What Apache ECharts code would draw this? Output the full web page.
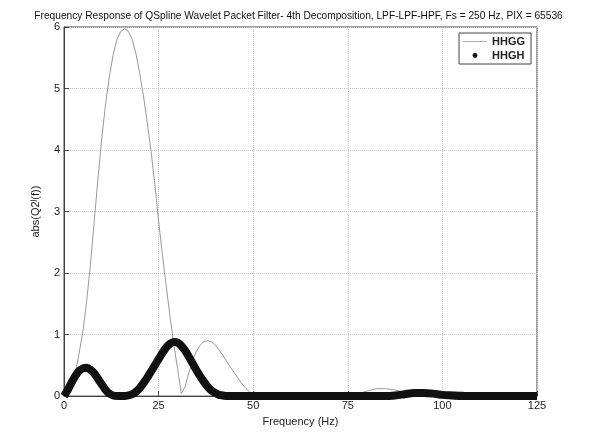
<!DOCTYPE html>
<html>
<head>
<meta charset="utf-8">
<script src="https://cdn.jsdelivr.net/npm/echarts@6/dist/echarts.min.js"></script>
<style>
  html, body { margin: 0; padding: 0; background: #fff; }
  #chart { width: 597px; height: 432px; }
</style>
</head>
<body>
<div id="chart"></div>
<script>
// frequency samples (Hz)
const freq = [
  0, 1, 2, 3, 4, 5, 6, 7, 8, 9, 10, 11, 12, 13, 14, 15, 16, 17, 18, 19, 20,
  21, 22, 23, 24, 25, 26, 27, 28, 29, 30, 31, 32, 33, 34, 35, 36, 37, 38, 39, 40,
  41, 42, 43, 44, 45, 46, 47, 48, 49, 50,
  52.5, 55, 57.5, 60, 62.5, 65, 67.5, 70, 72.5, 75, 77.5, 80, 82.5, 85, 87.5, 90,
  92.5, 95, 97.5, 100, 102.5, 105, 107.5, 110, 112.5, 115, 117.5, 120, 122.5, 125
];
// HHGG (thin gray)
const hhgg = [
  0, 0.03, 0.15, 0.38, 0.7, 1.05, 1.55, 2.15, 2.85, 3.55, 4.2, 4.75, 5.2, 5.55, 5.8, 5.93, 5.97, 5.93, 5.8, 5.57, 5.25,
  4.88, 4.45, 3.98, 3.45, 2.85, 2.3, 1.8, 1.3, 0.85, 0.45, 0.04, 0.15, 0.38, 0.58, 0.73, 0.83, 0.89, 0.9, 0.88, 0.83,
  0.75, 0.66, 0.56, 0.47, 0.38, 0.29, 0.2, 0.13, 0.07, 0.03,
  0.01, 0, 0, 0, 0, 0, 0, 0, 0, 0, 0.03, 0.08, 0.12, 0.12, 0.1, 0.06,
  0.03, 0.01, 0.02, 0.05, 0.07, 0.07, 0.04, 0.01, 0, 0, 0, 0, 0, 0
];
// HHGH (thick black)
const hhgh = [
  0, 0.1, 0.22, 0.33, 0.41, 0.45, 0.46, 0.43, 0.37, 0.28, 0.19, 0.1, 0.04, 0.01, 0, 0, 0, 0.01, 0.03, 0.07, 0.13,
  0.21, 0.3, 0.4, 0.5, 0.6, 0.7, 0.79, 0.85, 0.88, 0.87, 0.82, 0.74, 0.64, 0.53, 0.42, 0.32, 0.23, 0.15, 0.09, 0.05,
  0.02, 0.01, 0, 0, 0, 0, 0, 0, 0, 0,
  0, 0, 0, 0, 0, 0, 0, 0, 0, 0, 0, 0, 0, 0, 0.01, 0.03,
  0.05, 0.05, 0.04, 0.02, 0.01, 0, 0, 0, 0, 0, 0, 0, 0, 0
];
const xTicks = [0, 25, 50, 75, 100, 125];
const yTicks = [0, 1, 2, 3, 4, 5, 6];

const pairs = (ys) => freq.map((f, i) => [f, ys[i]]);

const chart = echarts.init(document.getElementById('chart'));
const fontFam = 'Liberation Sans, Arial, sans-serif';
const axisFont = { color: '#222', fontSize: 11, fontFamily: fontFam };

chart.setOption({
  animation: false,
  backgroundColor: '#fff',
  title: {
    text: 'Frequency Response of QSpline Wavelet Packet Filter- 4th Decomposition, LPF-LPF-HPF, Fs = 250 Hz, PIX = 65536',
    left: 'center',
    top: 6,
    textStyle: { color: '#111', fontSize: 10.2, fontWeight: 'normal', fontFamily: fontFam }
  },
  grid: {
    left: 64, right: 60, top: 27, bottom: 32,
    show: true, borderColor: '#444', borderWidth: 1
  },
  legend: {
    orient: 'vertical',
    right: 66,
    top: 33,
    padding: [3, 6, 3, 4],
    itemGap: 3,
    itemWidth: 24,
    itemHeight: 6,
    borderColor: '#444',
    borderWidth: 1,
    backgroundColor: '#fff',
    textStyle: { color: '#222', fontSize: 11, fontFamily: fontFam, fontWeight: 'bold' },
    data: [
      { name: 'HHGG', icon: 'path://M0,0H30V1H0Z', itemStyle: { color: '#999' } },
      { name: 'HHGH', lineStyle: { opacity: 0, width: 0 }, itemStyle: { color: '#111' } }
    ]
  },
  xAxis: {
    type: 'value',
    min: 0, max: 125, interval: 25,
    name: 'Frequency (Hz)',
    nameLocation: 'middle',
    nameGap: 19,
    nameTextStyle: axisFont,
    axisLine: { lineStyle: { color: '#444' } },
    axisTick: { inside: true, length: 5, lineStyle: { color: '#444' } },
    axisLabel: Object.assign({ margin: 4, formatter: (v) => xTicks.includes(v) ? String(v) : '' }, axisFont),
    splitLine: { lineStyle: { color: '#c8c8c8', type: 'dotted' } }
  },
  yAxis: {
    type: 'value',
    min: 0, max: 6, interval: 1,
    name: 'abs(Q2{sup|j}(f))',
    nameLocation: 'middle',
    nameGap: 22,
    nameTextStyle: Object.assign({
      rich: { sup: { fontSize: 8, fontFamily: fontFam, color: '#222', verticalAlign: 'bottom', padding: [0, 0, 5, 0] } }
    }, axisFont),
    axisLine: { lineStyle: { color: '#444' } },
    axisTick: { inside: true, length: 5, lineStyle: { color: '#444' } },
    axisLabel: Object.assign({ margin: 4, formatter: (v) => yTicks.includes(v) ? String(v) : '' }, axisFont),
    splitLine: { lineStyle: { color: '#c8c8c8', type: 'dotted' } }
  },
  series: [
    {
      name: 'HHGG',
      type: 'line',
      data: pairs(hhgg),
      symbol: 'none',
      smooth: false,
      clip: false,
      z: 3,
      lineStyle: { color: '#999', width: 1 },
      itemStyle: { color: '#999' }
    },
    {
      name: 'HHGH',
      type: 'line',
      data: pairs(hhgh),
      symbol: 'circle',
      showSymbol: false,
      smooth: 0.3,
      clip: false,
      z: 4,
      lineStyle: { color: '#111', width: 8 },
      itemStyle: { color: '#111' }
    }
  ]
});
</script>
</body>
</html>
